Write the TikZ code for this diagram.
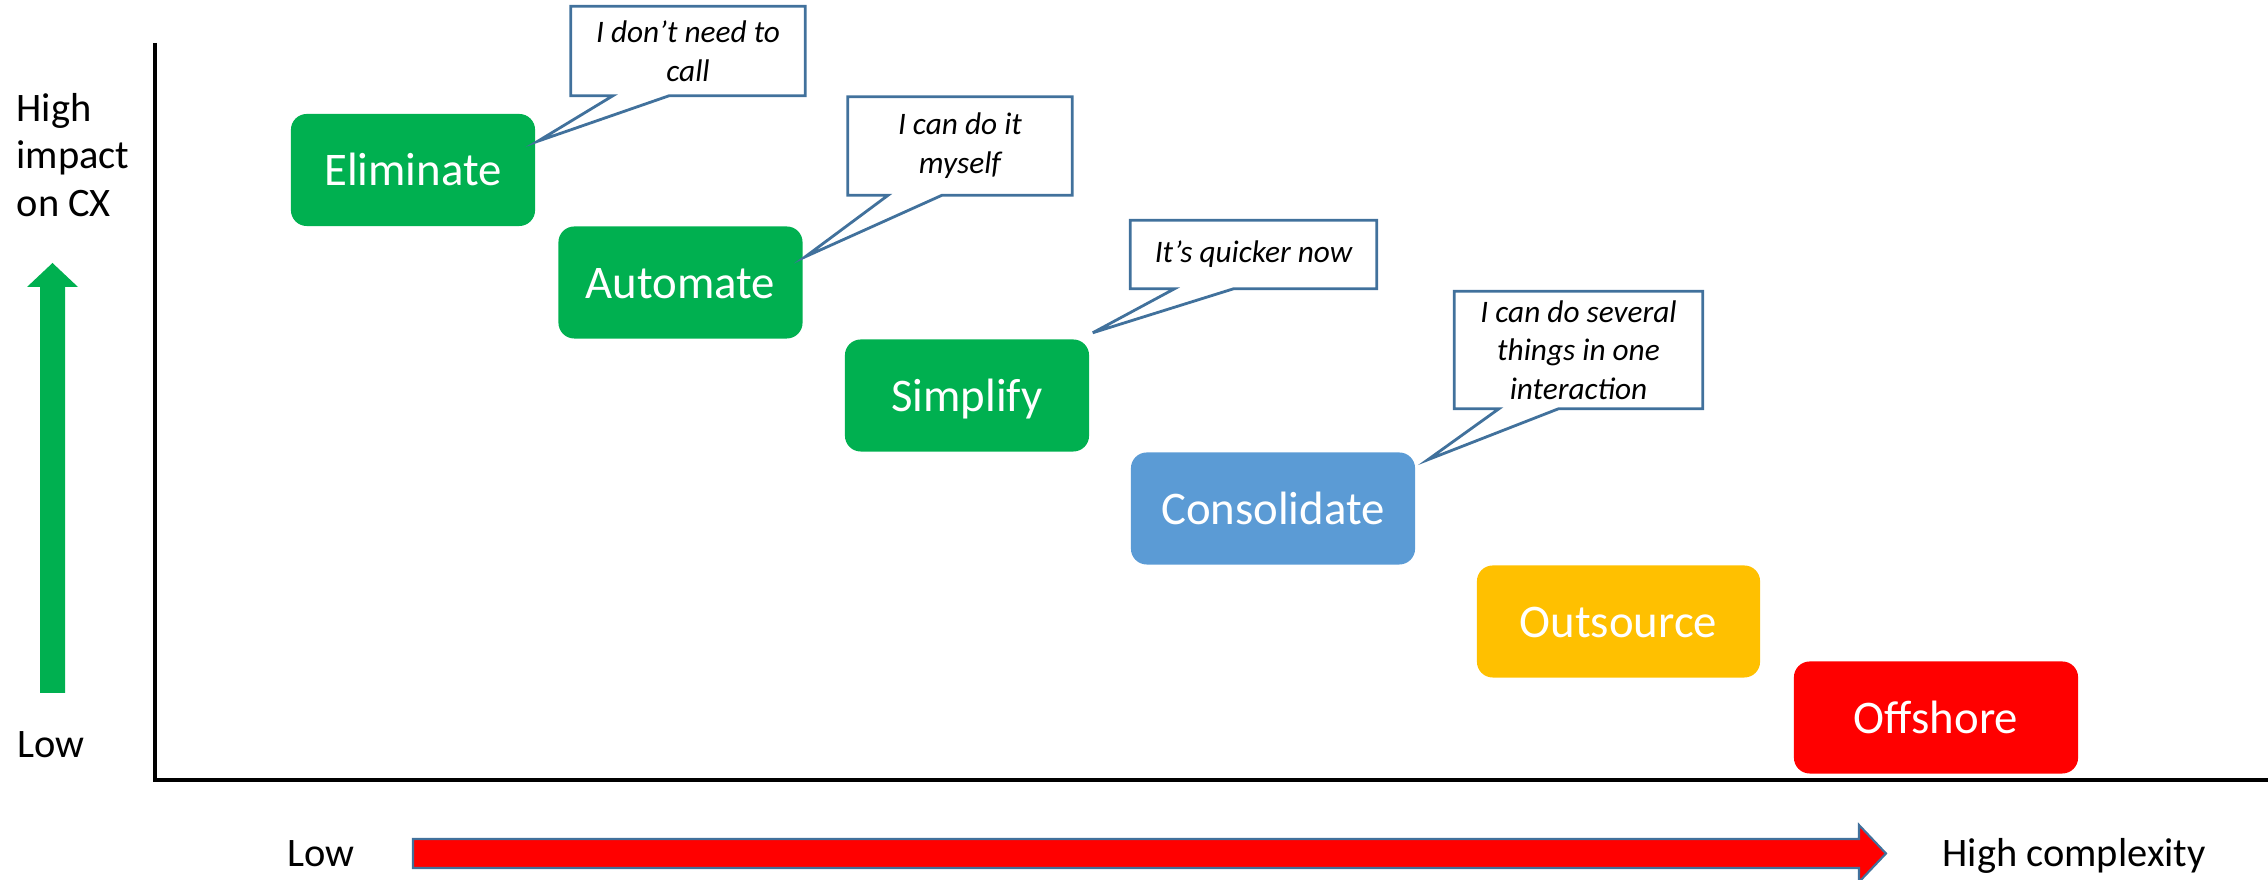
\documentclass[tikz,border=0pt]{standalone}
\usepackage{fontspec}
\setmainfont{Carlito}
\usetikzlibrary{calc}

\definecolor{stagegreen}{HTML}{00B050}
\definecolor{stageblue}{HTML}{5B9BD5}
\definecolor{stageamber}{HTML}{FFC000}
\definecolor{stagered}{HTML}{FF0000}
\definecolor{bubbleedge}{HTML}{41719C}

\tikzset{
  stage/.style={rounded corners=4.5pt, text=white, inner sep=0pt,
    minimum width=2.44cm, minimum height=1.12cm,
    text height=1.9ex, text depth=0pt,
    font=\fontsize{13.3}{16}\selectfont},
  bubble/.style={inner sep=0pt, align=center,
    font=\fontsize{8.9}{11}\selectfont\itshape},
  bubbleline/.style={draw=bubbleedge, line width=0.8pt},
  axislabel/.style={inner sep=0pt, font=\fontsize{11.5}{13.4}\selectfont},
}

\begin{document}
\begin{tikzpicture}[x=0.01cm, y=-0.01cm]
\useasboundingbox (0,0) rectangle (2268,880);

% ---------- axes ----------
\coordinate (top) at (155,43);
\coordinate (origin) at (155,780);
\coordinate (right) at (2268,780);
\draw[line width=1.4pt] (top) -- (origin) -- (right);

% ---------- impact arrow ----------
\fill[stagegreen] (40,693) -- (40,287) -- (27,287) -- (52.5,263)
  -- (78,287) -- (65,287) -- (65,693) -- cycle;

% ---------- complexity arrow ----------
\filldraw[fill=stagered, draw=bubbleedge, line width=0.6pt]
  (413,839) -- (1859,839) -- (1859,825) -- (1886,853.5)
  -- (1859,882) -- (1859,868) -- (413,868) -- cycle;

% ---------- axis labels ----------
\node[axislabel, align=left, anchor=north west] (impact) at (16,93) {High\\impact\\on CX};
\node[axislabel, anchor=base west] (lowy) at (17,758) {Low};
\node[axislabel, anchor=base west] (lowx) at (287,867) {Low};
\node[axislabel, anchor=base west] (highx) at (1942,867) {High complexity};

% ---------- stages ----------
\node[stage, fill=stagegreen] (elim) at (413,170) {Eliminate};
\node[stage, fill=stagegreen] (autom) at (680.5,282.5) {Automate};
\node[stage, fill=stagegreen] (simp) at (967,395.5) {Simplify};
\node[stage, fill=stageblue, minimum width=2.84cm] (cons) at (1273,508.5) {Consolidate};
\node[stage, fill=stageamber, minimum width=2.83cm] (outs) at (1618.5,621.5) {Outsource};
\node[stage, fill=stagered, minimum width=2.84cm] (offs) at (1936,717.5) {Offshore};

% ---------- callouts ----------
\node[bubble, minimum width=2.33cm, minimum height=0.88cm] (say1) at (688,51) {I don't need to\\call};
\node[bubble, minimum width=2.23cm, minimum height=0.97cm] (say2) at (960,146) {I can do it\\myself};
\node[bubble, minimum width=2.45cm, minimum height=0.67cm] (say3) at (1253.5,254.5) {It's quicker now};
\node[bubble, minimum width=2.47cm, minimum height=1.16cm] (say4) at (1578.5,350) {I can do several\\things in one\\interaction};

\coordinate (tip1) at ($(elim.north east)+(2,28)$);
\coordinate (tip2) at ($(autom.north east)+(2,31)$);
\coordinate (tip3) at ($(simp.north east)+(3,-6)$);
\coordinate (tip4) at ($(cons.north east)+(12,8)$);

\draw[bubbleline] (say1.south east) -- (say1.north east) -- (say1.north west) -- (say1.south west)
  -- ($(say1.south west)!0.18!(say1.south east)$) -- (tip1)
  -- ($(say1.south west)!0.42!(say1.south east)$) -- cycle;
\draw[bubbleline] (say2.south east) -- (say2.north east) -- (say2.north west) -- (say2.south west)
  -- ($(say2.south west)!0.18!(say2.south east)$) -- (tip2)
  -- ($(say2.south west)!0.42!(say2.south east)$) -- cycle;
\draw[bubbleline] (say3.south east) -- (say3.north east) -- (say3.north west) -- (say3.south west)
  -- ($(say3.south west)!0.18!(say3.south east)$) -- (tip3)
  -- ($(say3.south west)!0.42!(say3.south east)$) -- cycle;
\draw[bubbleline] (say4.south east) -- (say4.north east) -- (say4.north west) -- (say4.south west)
  -- ($(say4.south west)!0.18!(say4.south east)$) -- (tip4)
  -- ($(say4.south west)!0.42!(say4.south east)$) -- cycle;

\end{tikzpicture}
\end{document}
